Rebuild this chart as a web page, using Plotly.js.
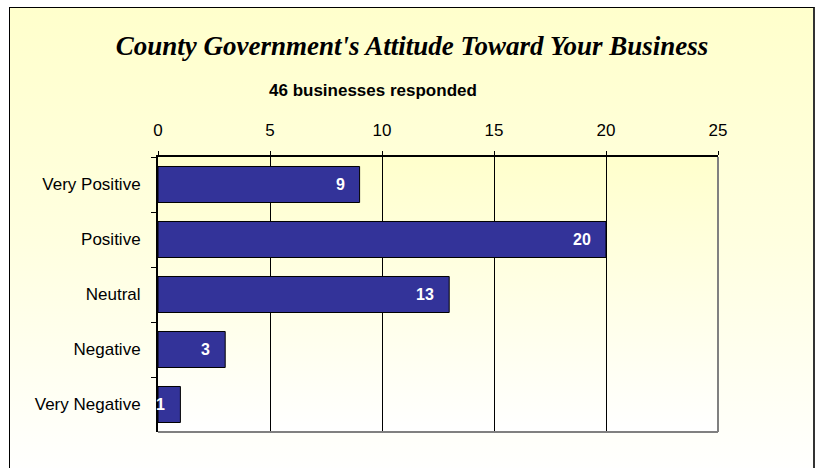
<!DOCTYPE html>
<html>
<head>
<meta charset="utf-8">
<script src="https://cdn.plot.ly/plotly-3.0.1.min.js"></script>
<style>
  html, body { margin: 0; padding: 0; background: #ffffff; }
  #wrap { position: relative; width: 819px; height: 468px; overflow: hidden; }
  #frame { position: absolute; left: 9px; top: 7px; width: 803px; height: 470px;
           border: 1px solid #000; border-right: 2px solid #333;
           background: linear-gradient(to bottom, #ffffcc 0%, #ffffe0 50%, #ffffff 100%); }
  #chart { position: absolute; left: 0; top: 0; width: 819px; height: 468px; }
</style>
</head>
<body>
<div id="wrap">
  <div id="frame"></div>
  <div id="chart"></div>
</div>
<script>
const categories = ["Very Positive", "Positive", "Neutral", "Negative", "Very Negative"];
const counts = [9, 20, 13, 3, 1];
const xTicks = [0, 5, 10, 15, 20, 25];
const chartTitle = "County Government's Attitude Toward Your Business";
const subTitle = "46 businesses responded";

const gradSvg = '<svg xmlns="http://www.w3.org/2000/svg" width="10" height="100" preserveAspectRatio="none">' +
  '<defs><linearGradient id="g" x1="0" y1="0" x2="0" y2="1">' +
  '<stop offset="0" stop-color="#ffffcc"/><stop offset="1" stop-color="#ffffff"/></linearGradient></defs>' +
  '<rect width="10" height="100" fill="url(#g)"/></svg>';
const gradUri = 'data:image/svg+xml;base64,' + btoa(gradSvg);

const trace = {
  type: 'bar',
  orientation: 'h',
  x: counts,
  y: categories,
  marker: { color: '#333399', line: { color: '#000000', width: 1 } },
  textposition: 'none',
  hoverinfo: 'x+y'
};

const barLabels = counts.map((v, i) => ({
  x: v, y: categories[i], xref: 'x', yref: 'y',
  text: '<b>' + v + '</b>', showarrow: false,
  xanchor: 'right', yanchor: 'middle', xshift: -13,
  font: { family: 'Liberation Sans, Arial, sans-serif', size: 16, color: '#ffffff' }
}));

const layout = {
  width: 819, height: 468,
  margin: { l: 158, r: 101, t: 157, b: 36, pad: 0 },
  paper_bgcolor: 'rgba(0,0,0,0)',
  plot_bgcolor: 'rgba(0,0,0,0)',
  showlegend: false,
  bargap: 0.345,
  title: {
    text: '<b><i>' + chartTitle + '</i></b>',
    font: { family: 'Liberation Serif, Times New Roman, serif', size: 27, color: '#000000' },
    x: 412 / 819, xanchor: 'center', xref: 'container',
    y: 1 - 46 / 468, yanchor: 'middle', yref: 'container'
  },
  xaxis: {
    side: 'top',
    range: [0, 25],
    tickvals: xTicks,
    ticktext: xTicks.map(String),
    ticks: 'outside', ticklen: 4, tickcolor: '#000000', tickwidth: 1,
    showline: true, linecolor: '#000000', linewidth: 2,
    showgrid: true, gridcolor: '#000000', gridwidth: 1,
    zeroline: false,
    ticklabelstandoff: 8,
    tickfont: { family: 'Liberation Sans, Arial, sans-serif', size: 17, color: '#000000' },
    fixedrange: true
  },
  yaxis: {
    type: 'category',
    autorange: 'reversed',
    tickson: 'boundaries',
    ticks: 'outside', ticklen: 5, tickcolor: '#000000', tickwidth: 1,
    showline: true, linecolor: '#000000', linewidth: 2,
    showgrid: false, zeroline: false,
    ticklabelstandoff: 12,
    tickfont: { family: 'Liberation Sans, Arial, sans-serif', size: 17, color: '#000000' },
    fixedrange: true
  },
  images: [{
    source: gradUri, xref: 'paper', yref: 'paper',
    x: 0, y: 1, sizex: 1, sizey: 1, xanchor: 'left', yanchor: 'top',
    sizing: 'stretch', layer: 'below'
  }],
  shapes: [
    { type: 'line', xref: 'paper', yref: 'paper', x0: 1, x1: 1, y0: 0, y1: 1,
      line: { color: '#808080', width: 2 }, layer: 'above' },
    { type: 'line', xref: 'paper', yref: 'paper', x0: 0, x1: 1, y0: 0, y1: 0,
      line: { color: '#808080', width: 2 }, layer: 'above' }
  ],
  annotations: [{
    text: '<b>' + subTitle + '</b>',
    xref: 'paper', yref: 'paper',
    x: (373 - 158) / 560, y: (432 - 90) / 275,
    xanchor: 'center', yanchor: 'middle', showarrow: false,
    font: { family: 'Liberation Sans, Arial, sans-serif', size: 17, color: '#000000' }
  }].concat(barLabels)
};

Plotly.newPlot('chart', [trace], layout, { displayModeBar: false, staticPlot: true });
</script>
</body>
</html>
